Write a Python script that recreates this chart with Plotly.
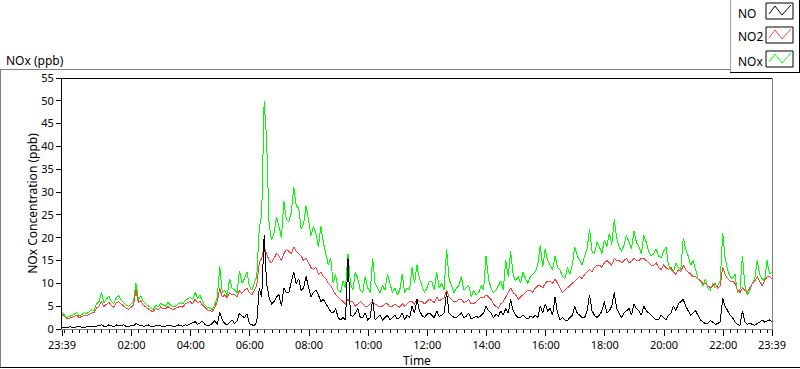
import pandas as pd
import plotly.graph_objects as go

# ---------------- data (5-minute readings from 23:39 to 23:39 next day) ----------------
start_time = "2000-01-01 23:39"
step_minutes = 5

nox = [3.8, 3.0, 2.5, 2.8, 2.9, 3.3, 3.6, 2.9, 3.1, 3.6,
       3.3, 3.8, 4.2, 4.0, 5.5, 6.0, 8.0, 5.8, 6.5, 7.2,
       6.0, 5.6, 6.8, 7.3, 6.3, 5.8, 5.2, 5.0, 5.6, 6.0,
       10.0, 6.5, 7.2, 6.0, 5.5, 5.0, 4.6, 4.2, 5.2, 4.8,
       5.6, 5.3, 5.0, 5.8, 5.4, 4.8, 5.0, 5.4, 5.8, 5.5,
       6.2, 6.6, 7.0, 6.4, 8.0, 6.8, 7.5, 6.0, 5.2, 4.8,
       4.5, 4.3, 5.5, 7.0, 13.7, 8.0, 8.5, 7.2, 11.0, 9.0,
       8.5, 8.0, 12.8, 10.0, 11.0, 12.5, 9.5, 8.5, 10.0, 11.5,
       22.0, 25.0, 50.0, 41.5, 23.0, 19.5, 21.0, 24.5, 22.5, 20.0,
       28.0, 24.0, 23.5, 25.5, 31.0, 27.0, 26.5, 22.0, 23.0, 27.0,
       24.0, 20.5, 22.5, 21.0, 18.0, 22.5, 19.0, 16.5, 14.0, 15.5,
       10.0, 12.0, 8.5, 8.0, 10.5, 9.0, 16.5, 10.0, 8.5, 12.5,
       11.0, 8.5, 8.0, 11.5, 9.0, 8.0, 15.5, 10.0, 9.0, 8.0,
       9.5, 8.5, 12.0, 10.0, 8.0, 9.0, 7.5, 8.5, 12.0, 8.0,
       9.0, 8.5, 13.5, 10.0, 14.0, 11.0, 9.5, 8.0, 9.0, 10.5,
       10.5, 8.5, 12.5, 9.0, 10.0, 8.5, 17.5, 11.0, 9.5, 8.0,
       9.0, 9.5, 11.5, 8.5, 9.0, 9.5, 7.0, 8.5, 7.5, 8.0,
       9.5, 8.5, 16.0, 11.0, 9.0, 8.0, 8.5, 9.5, 10.5, 8.5,
       15.0, 11.5, 17.0, 12.0, 10.5, 11.5, 10.0, 12.5, 11.0, 10.0,
       11.5, 12.0, 12.5, 14.0, 18.5, 13.5, 17.5, 15.0, 14.0, 13.0,
       16.0, 13.5, 13.0, 11.5, 11.0, 13.5, 12.0, 14.0, 18.0, 16.0,
       15.0, 14.0, 16.0, 17.5, 22.0, 17.0, 16.5, 19.0, 18.0, 16.5,
       19.5, 18.0, 21.0, 18.5, 24.0, 20.0, 18.0, 17.0, 18.5, 20.5,
       19.0, 17.5, 21.5, 19.0, 18.0, 16.5, 20.5, 19.0, 17.0, 16.0,
       16.5, 17.5, 16.0, 15.5, 17.0, 18.0, 14.0, 13.0, 12.5, 14.5,
       13.5, 13.0, 20.0, 17.5, 16.0, 14.0, 15.0, 13.0, 11.0, 10.5,
       9.5, 11.0, 9.0, 8.5, 10.0, 9.0, 9.5, 10.5, 21.0, 15.5,
       13.0, 11.5, 11.0, 12.0, 8.0, 8.5, 16.0, 9.5, 7.5, 8.5,
       10.0, 11.0, 15.0, 12.0, 11.0, 10.5, 15.0, 12.0, 12.5]

no2 = [3.2, 2.7, 2.2, 2.4, 2.5, 2.8, 3.0, 2.5, 2.7, 3.0,
       2.9, 3.2, 3.5, 3.6, 4.6, 5.0, 6.0, 4.9, 5.5, 5.9,
       5.2, 4.8, 5.8, 6.0, 5.5, 5.0, 4.6, 4.3, 4.8, 5.2,
       8.5, 5.8, 6.2, 5.2, 4.8, 4.3, 4.0, 3.8, 4.5, 4.2,
       4.8, 4.5, 4.4, 4.9, 4.6, 4.2, 4.5, 4.7, 5.0, 4.8,
       5.5, 5.8, 6.0, 5.5, 6.5, 5.8, 6.0, 5.2, 4.6, 4.2,
       4.0, 3.8, 4.8, 6.0, 9.0, 7.0, 7.5, 6.8, 8.0, 7.5,
       7.5, 7.0, 8.5, 7.8, 8.5, 9.0, 8.0, 7.5, 8.5, 9.5,
       14.5, 15.5, 18.0, 16.5, 15.0, 14.5, 15.5, 16.5, 16.0, 15.0,
       16.5, 17.5, 17.0, 16.5, 18.0, 17.0, 16.5, 16.0, 15.0, 15.5,
       14.5, 13.5, 13.0, 13.5, 12.0, 12.5, 11.5, 11.0, 10.0, 9.5,
       8.5, 7.5, 7.0, 6.5, 6.0, 5.5, 6.5, 6.0, 6.0, 5.0,
       5.5, 6.0, 5.5, 5.0, 5.0, 5.5, 6.0, 5.5, 5.2, 4.8,
       5.0, 5.5, 5.5, 4.8, 5.0, 5.4, 5.0, 4.8, 5.5, 5.0,
       5.5, 6.0, 6.0, 5.5, 6.5, 6.0, 6.0, 5.5, 6.0, 6.5,
       6.2, 5.8, 7.0, 6.2, 6.5, 6.8, 8.5, 7.0, 6.5, 6.0,
       6.0, 6.5, 6.5, 5.8, 6.0, 6.5, 5.5, 5.5, 6.0, 6.5,
       7.0, 6.8, 7.5, 7.0, 6.5, 5.5, 5.0, 4.5, 5.5, 6.0,
       7.0, 8.0, 9.0, 8.0, 7.5, 6.5, 7.0, 7.5, 8.0, 8.5,
       8.5, 8.0, 9.0, 9.5, 9.5, 9.0, 10.0, 10.5, 10.5, 10.0,
       11.0, 10.0, 9.0, 8.0, 8.5, 9.0, 9.5, 10.0, 10.5, 11.0,
       11.5, 11.0, 12.0, 12.5, 13.0, 12.5, 13.5, 14.0, 14.0, 13.5,
       14.5, 15.0, 14.5, 14.0, 15.5, 15.0, 15.0, 14.5, 15.0, 15.5,
       14.5, 14.8, 15.5, 15.0, 15.0, 15.5, 15.5, 15.0, 14.5, 14.0,
       14.0, 14.5, 13.5, 13.0, 14.0, 13.5, 13.0, 13.5, 12.5, 12.0,
       13.0, 12.5, 14.0, 13.0, 12.5, 12.0, 11.5, 11.5, 11.0, 10.5,
       10.0, 10.0, 9.5, 9.0, 9.5, 10.0, 9.0, 9.5, 13.5, 12.0,
       11.0, 10.5, 10.5, 10.0, 8.5, 8.0, 9.0, 8.5, 8.0, 9.0,
       10.0, 10.5, 11.5, 10.5, 9.5, 10.5, 11.5, 11.5, 11.0]

no = [0.4, 0.3, 0.3, 0.5, 0.4, 0.3, 0.5, 0.6, 0.4, 0.3,
      0.5, 0.6, 0.6, 0.5, 0.7, 0.8, 0.9, 0.6, 0.6, 0.9,
      0.7, 0.5, 0.9, 0.7, 0.7, 0.9, 0.6, 0.5, 0.8, 0.7,
      1.2, 0.9, 0.8, 0.6, 0.7, 0.9, 0.6, 0.5, 0.7, 0.8,
      0.7, 0.5, 0.6, 0.8, 0.8, 0.5, 0.6, 0.9, 0.8, 0.6,
      0.9, 0.8, 1.1, 1.4, 1.6, 1.0, 1.3, 1.7, 1.0, 0.7,
      0.8, 1.2, 1.8, 1.0, 3.7, 2.0, 1.2, 0.9, 1.5, 2.0,
      1.2, 1.8, 3.5, 2.8, 2.5, 3.3, 1.2, 0.9, 0.8, 1.5,
      9.0, 7.0, 20.5, 10.0, 7.0, 5.5, 6.0, 7.0, 7.5, 5.0,
      9.0, 8.0, 8.0, 10.5, 12.5, 10.0, 11.0, 8.5, 9.0, 11.5,
      9.5, 7.0, 8.0, 8.5, 7.5, 6.0, 6.5, 5.5, 4.5, 3.8,
      3.5, 4.5, 2.5, 2.0, 2.5, 2.0, 15.5, 3.0, 2.8, 3.5,
      4.5, 2.5, 2.5, 3.5, 2.0, 2.5, 6.5, 2.0, 2.5, 3.0,
      2.0, 2.5, 3.0, 2.0, 2.5, 3.0, 2.2, 2.5, 3.5, 2.0,
      3.0, 2.5, 5.0, 3.5, 6.5, 4.0, 3.0, 2.5, 3.2, 3.5,
      3.0, 2.5, 4.0, 2.8, 3.0, 3.5, 8.0, 3.5, 3.0, 2.5,
      2.5, 3.0, 3.5, 2.5, 2.8, 3.5, 2.2, 2.5, 2.8, 2.5,
      3.0, 3.5, 5.0, 4.0, 3.5, 2.5, 3.2, 2.8, 4.0, 3.0,
      4.5, 3.5, 6.5, 4.0, 3.0, 2.5, 2.5, 3.0, 2.5, 2.2,
      2.8, 2.5, 3.0, 2.5, 5.0, 3.5, 5.5, 4.0, 4.5, 3.0,
      7.0, 3.5, 2.0, 2.5, 2.0, 1.8, 2.5, 3.0, 5.0, 3.5,
      3.0, 2.5, 2.5, 4.0, 7.5, 4.0, 3.0, 2.5, 3.0, 4.0,
      6.0, 3.5, 4.0, 5.0, 8.0, 4.5, 3.5, 2.5, 3.5, 4.0,
      4.5, 3.0, 5.5, 4.5, 4.0, 3.0, 5.0, 4.0, 3.5, 3.0,
      2.5, 2.0, 2.0, 3.0, 2.5, 2.0, 3.0, 3.5, 5.0, 4.0,
      5.5, 6.0, 6.5, 5.0, 4.0, 3.0, 3.5, 4.0, 3.0, 2.0,
      1.5, 1.2, 1.3, 1.8, 1.5, 1.0, 1.2, 1.6, 6.7, 5.0,
      4.0, 3.0, 2.5, 1.5, 1.0, 0.8, 4.0, 1.5, 1.0, 1.3,
      1.0, 0.8, 1.2, 1.5, 2.0, 1.5, 1.8, 2.0, 1.5]

tick_labels = ["23:39", "02:00", "04:00", "06:00", "08:00", "10:00", "12:00",
               "14:00", "16:00", "18:00", "20:00", "22:00", "23:39"]
tick_times = ["2000-01-01 23:39", "2000-01-02 02:00", "2000-01-02 04:00",
              "2000-01-02 06:00", "2000-01-02 08:00", "2000-01-02 10:00",
              "2000-01-02 12:00", "2000-01-02 14:00", "2000-01-02 16:00",
              "2000-01-02 18:00", "2000-01-02 20:00", "2000-01-02 22:00",
              "2000-01-02 23:39"]
y_ticks = list(range(0, 56, 5))

series_names = ["NO", "NO2", "NOx"]
series_colors = ["#000000", "#ff4040", "#00ff00"]

# ---------------- figure ----------------
times = pd.date_range(start=start_time, periods=len(nox), freq=f"{step_minutes}min")

FONT = "Noto Sans"
W, H = 800, 369
L, R, T, B = 62, 772, 78, 329   # plot area in pixels


def px(x, y):
    return (x - L) / (R - L), (B - y) / (B - T)


fig = go.Figure()
for name, vals, col in [("NOx", nox, series_colors[2]),
                        ("NO2", no2, series_colors[1]),
                        ("NO", no, series_colors[0])]:
    fig.add_trace(go.Scatter(x=times, y=vals, mode="lines", name=name,
                             line=dict(color=col, width=1), showlegend=False))

shapes = []


def hline(x0, x1, y, color):
    a = px(x0, y)
    b = px(x1, y)
    shapes.append(dict(type="line", xref="paper", yref="paper", x0=a[0], y0=a[1],
                       x1=b[0], y1=b[1], line=dict(color=color, width=1), layer="above"))


def vline(x, y0, y1, color):
    a = px(x, y0)
    b = px(x, y1)
    shapes.append(dict(type="line", xref="paper", yref="paper", x0=a[0], y0=a[1],
                       x1=b[0], y1=b[1], line=dict(color=color, width=1), layer="above"))


# outer panel
hline(0, 730, 69.5, "#808080")
vline(0.5, 69, 367, "#808080")
hline(0, 800, 367.5, "#000000")
# plot frame top / right
hline(L, R, T + 0.5, "#000000")
vline(R + 0.5, T, B + 1, "#808080")
# legend panel
vline(730.5, 0, 72, "#a0a0a0")
hline(730, 800, 72.5, "#000000")
vline(799.5, 0, 72, "#000000")

annotations = []
legend_rows = [("NO", 11, series_colors[0]), ("NO2", 35, series_colors[1]), ("NOx", 59, series_colors[2])]
for name, cy, col in legend_rows:
    a = px(766, cy - 8)
    b = px(793, cy + 8)
    shapes.append(dict(type="rect", xref="paper", yref="paper", x0=a[0], y0=b[1], x1=b[0], y1=a[1],
                       line=dict(color="#000000", width=1), fillcolor="white", layer="above"))
    pts = [(769, cy + 3), (775, cy - 5), (782, cy + 4), (791, cy - 6)]
    path = "M " + " L ".join(f"{px(x, y)[0]:.5f},{px(x, y)[1]:.5f}" for x, y in pts)
    shapes.append(dict(type="path", xref="paper", yref="paper", path=path,
                       line=dict(color=col, width=1), layer="above"))
    tx, ty = px(736, cy + 2)
    annotations.append(dict(x=tx, y=ty, xref="paper", yref="paper", text=name, showarrow=False,
                            xanchor="left", yanchor="middle",
                            font=dict(family=FONT, size=12, color="#000000")))

tx, ty = px(4, 60)
annotations.append(dict(x=tx, y=ty, xref="paper", yref="paper", text="NOx (ppb)", showarrow=False,
                        xanchor="left", yanchor="middle", font=dict(family=FONT, size=12, color="#000000")))

fig.update_layout(
    width=W, height=H,
    margin=dict(l=L, r=W - R, t=T, b=H - B, pad=0),
    paper_bgcolor="white", plot_bgcolor="white",
    font=dict(family=FONT, size=12, color="#000000"),
    shapes=shapes, annotations=annotations,
    showlegend=False,
)

fig.update_xaxes(
    range=[tick_times[0], tick_times[-1]], automargin=False,
    tickmode="array", tickvals=tick_times, ticktext=tick_labels,
    ticks="outside", ticklen=6, tickcolor="#000000", tickwidth=1,
    tickfont=dict(family=FONT, size=11, color="#000000"),
    showgrid=False, zeroline=False,
    showline=True, linecolor="#808080", linewidth=1,
    minor=dict(tickmode="linear", tick0="2000-01-01 00:00", dtick=15 * 60 * 1000,
               ticks="outside", ticklen=3, tickcolor="#000000", showgrid=False),
    title=dict(text="Time", font=dict(family=FONT, size=12, color="#000000"), standoff=0),
)
fig.update_yaxes(
    range=[0, 55], automargin=False, tickmode="array", tickvals=y_ticks,
    ticks="outside", ticklen=5, tickcolor="#000000", tickwidth=1,
    tickfont=dict(family=FONT, size=11, color="#000000"),
    showgrid=False, zeroline=False,
    showline=True, linecolor="#000000", linewidth=1,
    title=dict(text="NOx Concentration (ppb)", font=dict(family=FONT, size=12, color="#000000"), standoff=1),
)

post = ("document.body.style.margin='0';document.body.style.overflow='hidden';"
        "document.querySelectorAll('.scatterlayer path.js-line').forEach(function(p){"
        "p.style.shapeRendering='crispEdges';});")
fig.write_html("out.html", config={"displayModeBar": False}, post_script=post)
